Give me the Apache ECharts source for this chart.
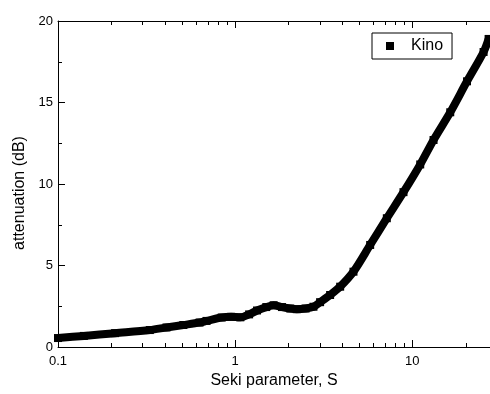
<!DOCTYPE html>
<html>
<head>
<meta charset="utf-8">
<script src="https://cdn.jsdelivr.net/npm/echarts@6/dist/echarts.min.js"></script>
<style>
  html, body { margin: 0; padding: 0; background: #ffffff; }
  #chart { width: 490px; height: 394px; }
</style>
</head>
<body>
<div id="chart"></div>
<script>
// Attenuation versus Seki parameter (log x axis)
const seriesName = 'Kino';
const sekiS = [0.1, 0.14, 0.21, 0.33, 0.41, 0.51, 0.63, 0.69, 0.84, 0.95, 1.07, 1.2, 1.33, 1.5, 1.65, 1.84, 2.05, 2.23, 2.5, 2.77, 3.02, 3.44, 3.92, 4.66, 5.79, 7.19, 8.93, 11.1, 13.2, 16.4, 20.4, 25.3, 27.0];
const attenuationDb = [0.55, 0.68, 0.85, 1.04, 1.2, 1.35, 1.5, 1.6, 1.81, 1.85, 1.82, 2.0, 2.24, 2.45, 2.56, 2.45, 2.36, 2.32, 2.36, 2.47, 2.75, 3.19, 3.7, 4.62, 6.26, 7.9, 9.5, 11.2, 12.7, 14.4, 16.3, 18.1, 18.9];

// Axis settings
const xMin = 0.1;
const xMax = 27.5;
const xMajorTicks = [1, 10];
const xMinorTicks = [0.2, 0.3, 0.4, 0.5, 0.6, 0.7, 0.8, 0.9, 2, 3, 4, 5, 6, 7, 8, 9, 20];
const yMin = 0;
const yMax = 20;
const yStep = 5;

const xTitle = 'Seki parameter, S';
const yTitle = 'attenuation (dB)';

const FONT = '"Liberation Sans", Arial, Helvetica, sans-serif';
const INK = '#000000';
const MAJOR_LEN = 7;
const MINOR_LEN = 4;

const chart = echarts.init(document.getElementById('chart'), null, { renderer: 'canvas' });

const option = {
  animation: false,
  backgroundColor: '#ffffff',
  textStyle: { fontFamily: FONT, color: INK },
  grid: {
    left: 58,
    top: 21,
    width: 432,
    height: 326,
    containLabel: false,
    outerBoundsMode: 'none'
  },
  legend: {
    data: [{ name: seriesName, icon: 'rect' }],
    left: 372,
    top: 33,
    orient: 'horizontal',
    itemWidth: 8,
    itemHeight: 8,
    padding: [5, 9, 5, 14],
    borderColor: INK,
    borderWidth: 1,
    borderRadius: 0,
    backgroundColor: '#ffffff',
    selectedMode: false,
    textStyle: { fontFamily: FONT, fontSize: 16, color: INK, padding: [0, 0, 0, 12] }
  },
  xAxis: [
    {
      type: 'log',
      logBase: 10,
      position: 'bottom',
      min: xMin,
      max: xMax,
      axisLine: { show: true, onZero: false, lineStyle: { color: INK, width: 1 } },
      axisTick: { show: false },
      axisLabel: { show: true, fontFamily: FONT, fontSize: 13, color: INK, margin: 8, showMaxLabel: false },
      splitLine: { show: false },
      name: xTitle,
      nameLocation: 'middle',
      nameGap: 20,
      nameTextStyle: { fontFamily: FONT, fontSize: 16, color: INK }
    },
    {
      type: 'log',
      logBase: 10,
      position: 'top',
      min: xMin,
      max: xMax,
      axisLine: { show: true, onZero: false, lineStyle: { color: INK, width: 1 } },
      axisTick: { show: false },
      axisLabel: { show: false },
      splitLine: { show: false }
    }
  ],
  yAxis: {
    type: 'value',
    min: yMin,
    max: yMax,
    interval: yStep,
    axisLine: { show: true, onZero: false, lineStyle: { color: INK, width: 1 } },
    axisTick: { show: true, inside: true, length: MAJOR_LEN, lineStyle: { color: INK, width: 1 } },
    minorTick: { show: true, splitNumber: 2, length: MINOR_LEN, lineStyle: { color: INK, width: 1 } },
    axisLabel: { fontFamily: FONT, fontSize: 13, color: INK, margin: 5 },
    splitLine: { show: false },
    minorSplitLine: { show: false },
    name: yTitle,
    nameLocation: 'middle',
    nameGap: 29,
    nameTextStyle: { fontFamily: FONT, fontSize: 16, color: INK, padding: [0, 18, 0, 0] }
  },
  series: [
    {
      name: seriesName,
      type: 'line',
      xAxisIndex: 0,
      yAxisIndex: 0,
      data: sekiS.map((s, i) => [s, attenuationDb[i]]),
      smooth: 0.3,
      symbol: 'rect',
      symbolSize: 8,
      showSymbol: true,
      showAllSymbol: true,
      itemStyle: { color: INK },
      lineStyle: { color: INK, width: 8, join: 'round' },
      emphasis: { disabled: true },
      z: 3
    }
  ]
};

chart.setOption(option);

// Inward log-decade ticks on the bottom and top edges, placed through the axis scale
const yBottom = chart.convertToPixel({ yAxisIndex: 0 }, yMin);
const yTop = chart.convertToPixel({ yAxisIndex: 0 }, yMax);
const tickGraphics = [];
function addTick(value, len) {
  const x = Math.round(chart.convertToPixel({ xAxisIndex: 0 }, value)) + 0.5;
  tickGraphics.push({ type: 'line', silent: true, z: 10, shape: { x1: x, y1: yBottom, x2: x, y2: yBottom - len }, style: { stroke: INK, lineWidth: 1 } });
  tickGraphics.push({ type: 'line', silent: true, z: 10, shape: { x1: x, y1: yTop, x2: x, y2: yTop + len }, style: { stroke: INK, lineWidth: 1 } });
}
xMajorTicks.forEach(v => addTick(v, MAJOR_LEN));
xMinorTicks.forEach(v => addTick(v, MINOR_LEN));
chart.setOption({ graphic: tickGraphics });
</script>
</body>
</html>
